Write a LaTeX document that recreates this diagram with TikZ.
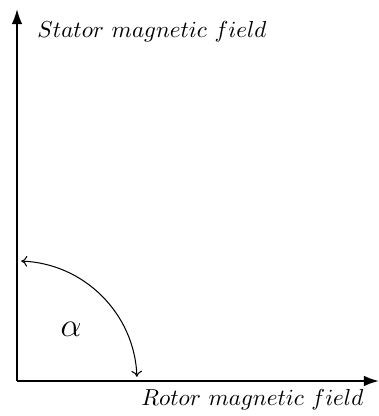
\documentclass[tikz,border=0pt]{standalone}
\usetikzlibrary{arrows.meta}
\begin{document}
\begin{tikzpicture}[x=0.4329pt,y=-0.4329pt,
  axis/.style={line width=0.9pt,-{Latex[length=6.5pt,width=4.6pt]}},
  anglearc/.style={line width=0.45pt,{To[length=2.6pt,width=4.6pt]}-{To[length=2.6pt,width=4.6pt]}},
  lbl/.style={inner sep=0pt,anchor=base west}]
\useasboundingbox (0,0) rectangle (379,416);
\coordinate (O) at (17,381);
\coordinate (Ytop) at (17,9);
\coordinate (Xend) at (379,381);
\draw[axis] (O) -- (Ytop);
\draw[axis] (O) -- (Xend);
\draw[anglearc] ([shift={(88:120pt/2.31)}]O) arc[start angle=88,end angle=2,radius=120pt/2.31];
\node[lbl] (stator) at (37,37) {$Stator\ magnetic\ field$};
\node[lbl] (rotor) at (141,405) {$Rotor\ magnetic\ field$};
\node[inner sep=0pt] (alpha) at (71,329) {\Large$\alpha$};
\end{tikzpicture}
\end{document}
